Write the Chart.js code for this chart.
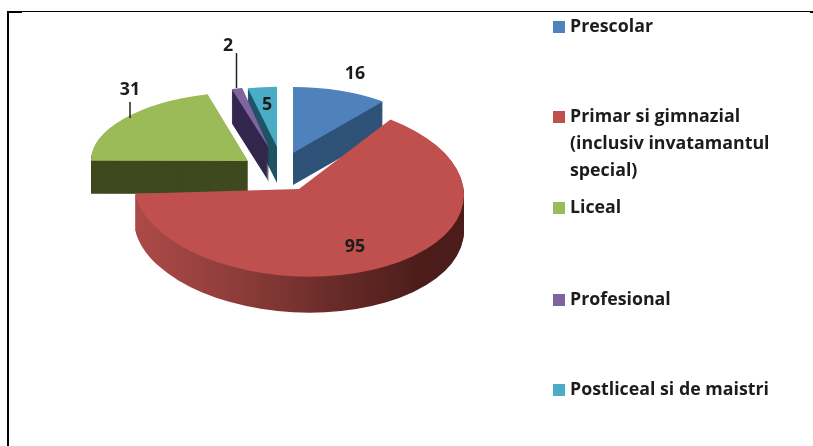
<!DOCTYPE html>
<html>
<head>
<meta charset="utf-8">
<script src="https://cdn.jsdelivr.net/npm/chart.js@4/dist/chart.umd.min.js"></script>
<style>
html,body{margin:0;padding:0;background:#fff;width:813px;height:446px;overflow:hidden}
#wrap{position:relative;width:813px;height:446px}
canvas{position:absolute;left:0;top:0;filter:blur(0.6px)}
.l{position:absolute;background:#000}
</style>
</head>
<body>
<div id="wrap">
<canvas id="c" width="813" height="446"></canvas>
<div class="l" style="left:7px;top:11px;width:2px;height:435px"></div>
<div class="l" style="left:7px;top:11px;width:806px;height:1px"></div>
<div class="l" style="left:7px;top:12px;width:15px;height:1px"></div>
<div class="l" style="left:810px;top:12px;width:3px;height:1px"></div>
</div>
<script>
const categories = ["Prescolar", "Primar si gimnazial (inclusiv invatamantul special)", "Liceal", "Profesional", "Postliceal si de maistri"];
const values = [16, 95, 31, 2, 5];
const topColors = ["#4f81bd", "#c0504d", "#9bbb59", "#8064a2", "#4bacc6"];
const wallColors = ["#2f5378", null, "#3f491f", "#33274d", "#1f5566"];
const legendLines = [["Prescolar"], ["Primar si gimnazial", "(inclusiv invatamantul", "special)"], ["Liceal"], ["Profesional"], ["Postliceal si de maistri"]];
const legendY = [27, 117, 208, 300, 390];
// 3D projection of each slice: apex x, y, radius, squash, wall depth, in-plane tilt (deg), shear
const sliceGeom = [
  [293, 153, 144, 0.458, 32, 0, 0],
  [299, 189, 165, 0.53, 36, -5, 0.035],
  [248, 161, 157, 0.44, 33, 2, 0],
  [269, 148, 128, 0.48, 34, 0, 0],
  [277, 147, 140, 0.43, 36, 0, 0]
];
const drawOrder = [4, 3, 2, 0, 1];
const labelPos = [[355, 74], [355, 247], [130, 90], [228, 46], [267, 105]];
const leaders = [[130, 102, 130, 118], [236.5, 53, 236.5, 88]];
const FONT = 'bold 17.8px "Open Sans", sans-serif';
const TEXT = '#1c1c1c';

function place(ctx, el, g, dy) {
  const k = g[2] / el.outerRadius;
  ctx.translate(g[0], g[1] + dy);
  ctx.transform(1, g[6], 0, 1, 0, 0);
  ctx.scale(k, k * g[3]);
  ctx.rotate(g[5] * Math.PI / 180);
  ctx.translate(-el.x, -el.y);
}
function paintAs(ctx, el, color) {
  const p = Object.create(el);
  p.options = Object.assign({}, el.options, {backgroundColor: color});
  el.draw.call(p, ctx);
}
const pie3d = {
  id: 'pie3d',
  beforeDatasetDraw(chart) {
    const ctx = chart.ctx, meta = chart.getDatasetMeta(0);
    drawOrder.forEach(i => {
      const el = meta.data[i], g = sliceGeom[i];
      let wall = wallColors[i];
      if (!wall) {
        wall = ctx.createLinearGradient(el.x - el.outerRadius, 0, el.x + el.outerRadius, 0);
        wall.addColorStop(0, '#ab4a47');
        wall.addColorStop(0.3, '#8a3b39');
        wall.addColorStop(0.6, '#642926');
        wall.addColorStop(0.85, '#4b1c1a');
        wall.addColorStop(1, '#4b1c1a');
      }
      for (let d = g[4]; d >= 1; d--) {
        ctx.save(); place(ctx, el, g, d); paintAs(ctx, el, wall); ctx.restore();
      }
      ctx.save(); place(ctx, el, g, 0); paintAs(ctx, el, topColors[i]); ctx.restore();
    });
    return false;
  },
  afterDraw(chart) {
    const ctx = chart.ctx;
    ctx.save();
    ctx.strokeStyle = '#222'; ctx.lineWidth = 1.5;
    leaders.forEach(s => { ctx.beginPath(); ctx.moveTo(s[0], s[1]); ctx.lineTo(s[2], s[3]); ctx.stroke(); });
    ctx.font = FONT; ctx.fillStyle = TEXT; ctx.textBaseline = 'middle'; ctx.textAlign = 'center';
    values.forEach((v, i) => ctx.fillText(String(v), labelPos[i][0], labelPos[i][1]));
    ctx.textAlign = 'left';
    legendLines.forEach((lines, i) => {
      ctx.fillStyle = topColors[i];
      ctx.fillRect(553, legendY[i] - 6, 12, 12);
      ctx.fillStyle = TEXT;
      lines.forEach((t, j) => ctx.fillText(t, 570, legendY[i] + j * 27));
    });
    ctx.restore();
  }
};
new Chart(document.getElementById('c'), {
  type: 'pie',
  data: {labels: categories, datasets: [{data: values, backgroundColor: topColors, borderWidth: 0}]},
  options: {
    responsive: false, animation: false,
    plugins: {legend: {display: false}, tooltip: {enabled: false}}
  },
  plugins: [pie3d]
});
</script>
</body>
</html>
